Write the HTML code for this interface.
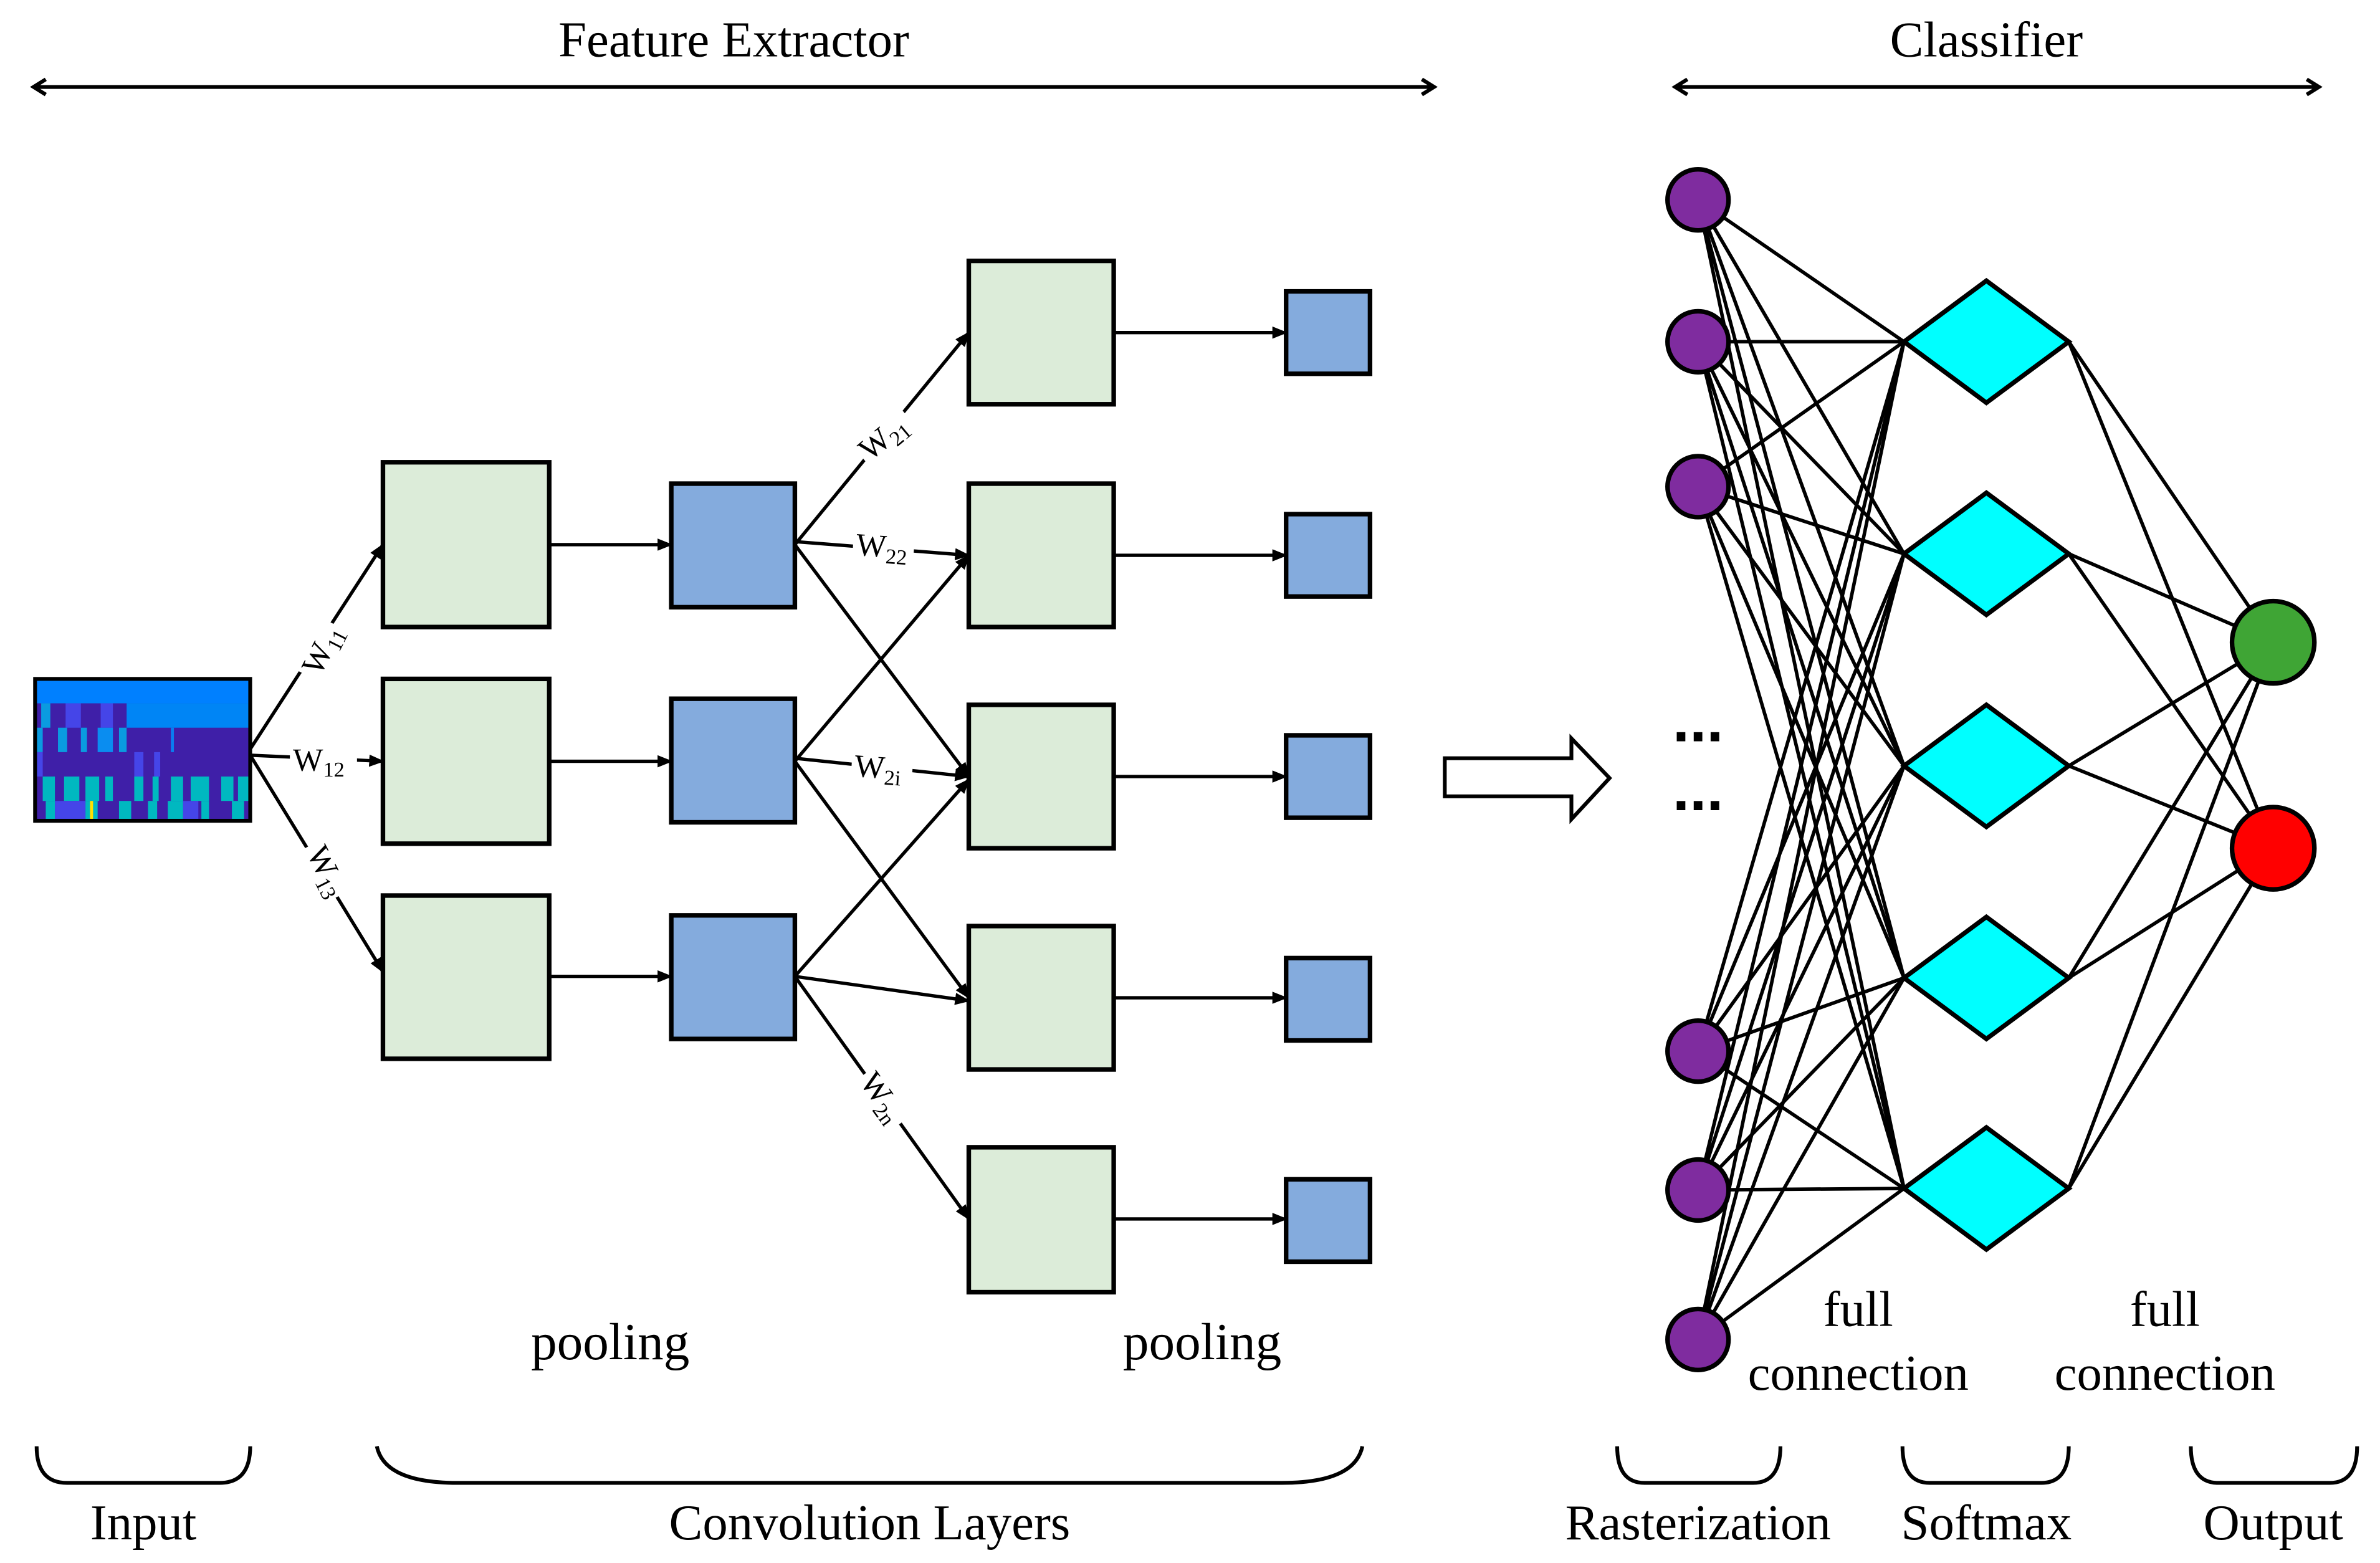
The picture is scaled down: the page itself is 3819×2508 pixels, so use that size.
<!DOCTYPE html>
<html><head><meta charset="utf-8"><style>html,body{margin:0;padding:0;background:#fff}svg{display:block}</style></head>
<body>
<svg width="3819" height="2508" viewBox="0 0 1560 1024.5" preserveAspectRatio="none" xmlns="http://www.w3.org/2000/svg" font-family="'Liberation Serif', serif">
<defs>
<marker id="a" markerWidth="10" markerHeight="8" refX="9" refY="4" orient="auto" markerUnits="userSpaceOnUse"><path d="M0,0 L10,4 L0,8 z" fill="#000"/></marker>
</defs>
<g stroke="#000" stroke-width="2.5" fill="none">
<line x1="22" y1="57" x2="940" y2="57"/>
<path d="M30,52 L22,57 L30,62 M932,52 L940,57 L932,62"/>
<line x1="1098" y1="57" x2="1520" y2="57"/>
<path d="M1106,52 L1098,57 L1106,62 M1512,52 L1520,57 L1512,62"/>
</g>
<text x="481" y="37" font-size="33" text-anchor="middle">Feature Extractor</text>
<text x="1302" y="37" font-size="33" text-anchor="middle">Classifier</text>

<!-- heatmap -->
<g>
<rect x="23" y="445" width="141" height="93" fill="#3f1fa8"/>
<rect x="23" y="446" width="141" height="15" fill="#0080ff"/>
<rect x="83" y="461" width="81" height="16" fill="#0085f5"/>
<rect x="27" y="461" width="6" height="16" fill="#0a9be0"/><rect x="43" y="461" width="10" height="16" fill="#4545e8"/><rect x="66" y="461" width="8" height="16" fill="#4545e8"/>
<rect x="23" y="477" width="5" height="16" fill="#0a9be0"/><rect x="38" y="477" width="6" height="16" fill="#0a9be0"/><rect x="53" y="477" width="4" height="16" fill="#0a9be0"/><rect x="64" y="477" width="10" height="16" fill="#0a8df0"/><rect x="78" y="477" width="5" height="16" fill="#0a9be0"/><rect x="112" y="477" width="2" height="16" fill="#0a7df0"/>
<rect x="23" y="493" width="5" height="16" fill="#4545e8"/><rect x="88" y="493" width="6" height="16" fill="#4545e8"/><rect x="101" y="493" width="4" height="16" fill="#4545e8"/>
<g fill="#00b8c0"><rect x="28" y="509" width="8" height="16"/><rect x="42" y="509" width="10" height="16"/><rect x="56" y="509" width="9" height="16"/><rect x="69" y="509" width="5" height="16"/><rect x="88" y="509" width="6" height="16"/><rect x="100" y="509" width="4" height="16"/><rect x="112" y="509" width="8" height="16"/><rect x="125" y="509" width="12" height="16"/><rect x="145" y="509" width="8" height="16"/><rect x="156" y="509" width="8" height="16"/>
<rect x="30" y="525" width="6" height="13"/><rect x="56" y="525" width="8" height="13"/><rect x="78" y="525" width="8" height="13"/><rect x="97" y="525" width="6" height="13"/><rect x="110" y="525" width="10" height="13"/><rect x="132" y="525" width="5" height="13"/><rect x="152" y="525" width="8" height="13"/></g>
<rect x="36" y="525" width="20" height="13" fill="#4545e8"/><rect x="120" y="525" width="10" height="13" fill="#4545e8"/>
<rect x="59" y="525" width="2" height="13" fill="#ffe000"/>
<rect x="23" y="445" width="141" height="93" fill="none" stroke="#000" stroke-width="2.5"/>
</g>

<!-- boxes -->
<g stroke="#000" stroke-width="3" fill="#dcecd9">
<rect x="251" y="303" width="109" height="108"/><rect x="251" y="445" width="109" height="108"/><rect x="251" y="587" width="109" height="107"/>
<rect x="635" y="171" width="95" height="94"/><rect x="635" y="317" width="95" height="94"/><rect x="635" y="462" width="95" height="94"/><rect x="635" y="607" width="95" height="94"/><rect x="635" y="752" width="95" height="95"/>
</g>
<g stroke="#000" stroke-width="3" fill="#84abdd">
<rect x="440" y="317" width="81" height="81"/><rect x="440" y="458" width="81" height="81"/><rect x="440" y="600" width="81" height="81"/>
<rect x="843" y="191" width="55" height="54"/><rect x="843" y="337" width="55" height="54"/><rect x="843" y="482" width="55" height="54"/><rect x="843" y="628" width="55" height="54"/><rect x="843" y="773" width="55" height="54"/>
</g>

<!-- arrows -->
<g stroke="#000" stroke-width="2.2" fill="none" marker-end="url(#a)">
<line x1="164" y1="491" x2="251" y2="357"/><line x1="164" y1="495" x2="251" y2="499"/><line x1="164" y1="495" x2="251" y2="637"/>
<line x1="360" y1="357" x2="440" y2="357"/><line x1="360" y1="499" x2="440" y2="499"/><line x1="360" y1="640" x2="440" y2="640"/>
<line x1="521" y1="357" x2="635" y2="218"/><line x1="521" y1="355" x2="635" y2="364"/><line x1="521" y1="357" x2="635" y2="509"/>
<line x1="521" y1="499" x2="635" y2="364"/><line x1="521" y1="497" x2="635" y2="509"/><line x1="521" y1="499" x2="635" y2="654"/>
<line x1="521" y1="640" x2="635" y2="511"/><line x1="521" y1="640" x2="635" y2="656"/><line x1="521" y1="640" x2="635" y2="799"/>
<line x1="730" y1="218" x2="843" y2="218"/><line x1="730" y1="364" x2="843" y2="364"/><line x1="730" y1="509" x2="843" y2="509"/><line x1="730" y1="654" x2="843" y2="654"/><line x1="730" y1="799" x2="843" y2="799"/>
</g>
<!-- weight labels -->
<g font-size="21">
<g transform="translate(212,428) rotate(-63)"><rect x="-18" y="-14" width="38" height="24" fill="#fff"/><text x="-15" y="5">W<tspan font-size="14" dy="4">11</tspan></text></g>
<g transform="translate(210,500)"><rect x="-20" y="-14" width="44" height="24" fill="#fff"/><text x="-18" y="5">W<tspan font-size="14" dy="4">12</tspan></text></g>
<g transform="translate(212,570) rotate(63)"><rect x="-18" y="-14" width="38" height="24" fill="#fff"/><text x="-15" y="5">W<tspan font-size="14" dy="4">13</tspan></text></g>
<g transform="translate(580,288) rotate(-40)"><rect x="-19" y="-14" width="40" height="24" fill="#fff"/><text x="-17" y="5">W<tspan font-size="14" dy="4">21</tspan></text></g>
<g transform="translate(578,360) rotate(4)"><rect x="-19" y="-14" width="40" height="26" fill="#fff"/><text x="-17" y="5">W<tspan font-size="14" dy="4">22</tspan></text></g>
<g transform="translate(577,505) rotate(4)"><rect x="-19" y="-14" width="40" height="26" fill="#fff"/><text x="-17" y="5">W<tspan font-size="14" dy="4">2i</tspan></text></g>
<g transform="translate(577,720) rotate(54)"><rect x="-19" y="-14" width="40" height="24" fill="#fff"/><text x="-17" y="5">W<tspan font-size="14" dy="4">2n</tspan></text></g>
</g>
<text x="400" y="891" font-size="34" text-anchor="middle">pooling</text>
<text x="788" y="891" font-size="34" text-anchor="middle">pooling</text>

<!-- big arrow -->
<path d="M947,497 L1030,497 L1030,484 L1055,510 L1030,537 L1030,522 L947,522 Z" fill="#fff" stroke="#000" stroke-width="2.5"/>
<text x="1113" y="486" font-size="40" font-weight="bold" text-anchor="middle" font-family="'Liberation Sans',sans-serif">...</text>
<text x="1113" y="531" font-size="40" font-weight="bold" text-anchor="middle" font-family="'Liberation Sans',sans-serif">...</text>

<!-- connections -->
<g stroke="#000" stroke-width="2.3">
<line x1="1113" y1="131" x2="1248" y2="224"/><line x1="1113" y1="131" x2="1248" y2="363"/><line x1="1113" y1="131" x2="1248" y2="502"/><line x1="1113" y1="131" x2="1248" y2="641"/><line x1="1113" y1="131" x2="1248" y2="779"/>
<line x1="1113" y1="224" x2="1248" y2="224"/><line x1="1113" y1="224" x2="1248" y2="363"/><line x1="1113" y1="224" x2="1248" y2="502"/><line x1="1113" y1="224" x2="1248" y2="641"/><line x1="1113" y1="224" x2="1248" y2="779"/>
<line x1="1113" y1="319" x2="1248" y2="224"/><line x1="1113" y1="319" x2="1248" y2="363"/><line x1="1113" y1="319" x2="1248" y2="502"/><line x1="1113" y1="319" x2="1248" y2="641"/><line x1="1113" y1="319" x2="1248" y2="779"/>
<line x1="1113" y1="689" x2="1248" y2="224"/><line x1="1113" y1="689" x2="1248" y2="363"/><line x1="1113" y1="689" x2="1248" y2="502"/><line x1="1113" y1="689" x2="1248" y2="641"/><line x1="1113" y1="689" x2="1248" y2="779"/>
<line x1="1113" y1="780" x2="1248" y2="224"/><line x1="1113" y1="780" x2="1248" y2="363"/><line x1="1113" y1="780" x2="1248" y2="502"/><line x1="1113" y1="780" x2="1248" y2="641"/><line x1="1113" y1="780" x2="1248" y2="779"/>
<line x1="1113" y1="878" x2="1248" y2="224"/><line x1="1113" y1="878" x2="1248" y2="363"/><line x1="1113" y1="878" x2="1248" y2="502"/><line x1="1113" y1="878" x2="1248" y2="641"/><line x1="1113" y1="878" x2="1248" y2="779"/>
<line x1="1356" y1="224" x2="1490" y2="421"/><line x1="1356" y1="224" x2="1490" y2="556"/>
<line x1="1356" y1="363" x2="1490" y2="421"/><line x1="1356" y1="363" x2="1490" y2="556"/>
<line x1="1356" y1="502" x2="1490" y2="421"/><line x1="1356" y1="502" x2="1490" y2="556"/>
<line x1="1356" y1="641" x2="1490" y2="421"/><line x1="1356" y1="641" x2="1490" y2="556"/>
<line x1="1356" y1="779" x2="1490" y2="421"/><line x1="1356" y1="779" x2="1490" y2="556"/>
</g>
<g stroke="#000" stroke-width="3" fill="#7f2c9f">
<circle cx="1113" cy="131" r="20"/><circle cx="1113" cy="224" r="20"/><circle cx="1113" cy="319" r="20"/><circle cx="1113" cy="689" r="20"/><circle cx="1113" cy="780" r="20"/><circle cx="1113" cy="878" r="20"/>
</g>
<g stroke="#000" stroke-width="3" fill="#00ffff">
<path d="M1248,224 L1302,184 L1356,224 L1302,264 Z"/>
<path d="M1248,363 L1302,323 L1356,363 L1302,403 Z"/>
<path d="M1248,502 L1302,462 L1356,502 L1302,542 Z"/>
<path d="M1248,641 L1302,601 L1356,641 L1302,681 Z"/>
<path d="M1248,779 L1302,739 L1356,779 L1302,819 Z"/>
</g>
<circle cx="1490" cy="421" r="27" fill="#3fa535" stroke="#000" stroke-width="3"/>
<circle cx="1490" cy="556" r="27" fill="#ff0000" stroke="#000" stroke-width="3"/>

<g font-size="33" text-anchor="middle">
<text x="1218" y="869">full</text><text x="1218" y="911">connection</text>
<text x="1419" y="869">full</text><text x="1419" y="911">connection</text>
</g>

<!-- brackets -->
<g stroke="#000" stroke-width="2.5" fill="none">
<path d="M24,948 Q24,972 44,972 L144,972 Q164,972 164,948"/>
<path d="M247,948 Q252,972 300,972 L840,972 Q888,972 893,948"/>
<path d="M1060,948 Q1060,972 1078,972 L1149,972 Q1167,972 1167,948"/>
<path d="M1247,948 Q1247,972 1265,972 L1338,972 Q1356,972 1356,948"/>
<path d="M1436,948 Q1436,972 1454,972 L1527,972 Q1545,972 1545,948"/>
</g>
<g font-size="33" text-anchor="middle">
<text x="94" y="1009">Input</text>
<text x="570" y="1009">Convolution Layers</text>
<text x="1113" y="1009">Rasterization</text>
<text x="1302" y="1009">Softmax</text>
<text x="1490" y="1009">Output</text>
</g>
</svg>
</body></html>
